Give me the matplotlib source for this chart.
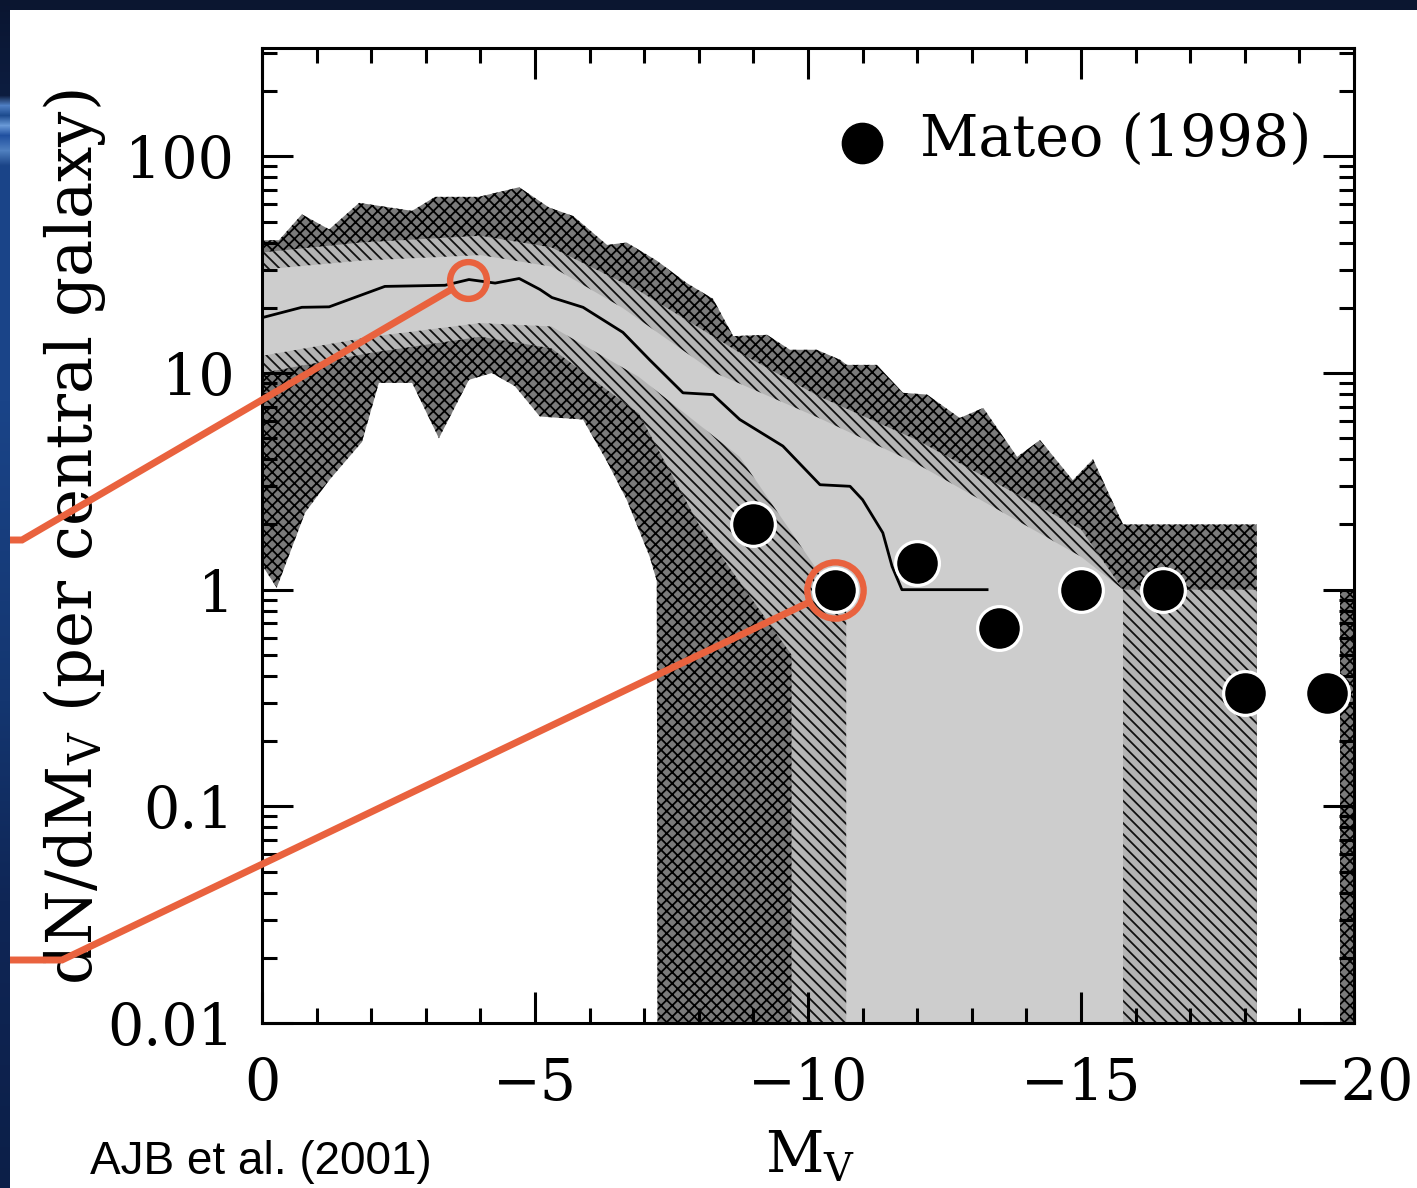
import numpy as np
import matplotlib
matplotlib.use("Agg")
import matplotlib.pyplot as plt
from matplotlib.lines import Line2D
from matplotlib.ticker import FixedLocator, FixedFormatter, LogLocator, MultipleLocator, NullFormatter

# ---------------------------------------------------------------
# Model satellite luminosity function: percentile envelopes
# (M_V, dN/dM_V); a value of 0 means the band reaches zero.
# ---------------------------------------------------------------
outer_hi_mv = [0.0, -0.31, -0.73, -1.23, -1.78, -2.75, -3.17, -3.97, -4.71, -5.26,
               -5.70, -6.32, -6.68, -7.23, -7.78, -8.26, -8.63, -9.25, -9.67, -10.16,
               -10.59, -10.71, -11.26, -11.74, -12.18, -12.78, -13.21, -13.83, -14.25,
               -14.85, -15.22, -15.77, -18.22, -18.22]
outer_hi_n = [41, 41, 54, 46, 61, 56, 65, 65, 72, 58,
              53, 39, 40, 33, 26, 22, 14.8, 15, 12.8, 12.8,
              11.5, 10.9, 10.9, 8.1, 7.95, 6.2, 6.9, 4.1, 4.9,
              3.2, 4.0, 2.0, 2.0, 0]

outer_lo_mv = [0.0, -0.27, -0.79, -1.23, -1.83, -2.14, -2.75, -3.24, -3.79, -4.21,
               -4.63, -5.09, -5.88, -6.32, -6.68, -7.10, -7.23, -7.25, -18.22]
outer_lo_n = [1.3, 1.02, 2.27, 3.2, 4.8, 9.0, 9.0, 5.0, 9.3, 10.0,
              8.7, 6.3, 6.1, 3.9, 2.6, 1.42, 1.1, 0, 0]

mid_hi_mv = [0.0, -1.8, -4.0, -5.3, -6.9, -8.75, -10.2, -12.0, -15.0, -15.77, -18.22, -18.22]
mid_hi_n = [36, 40, 43, 38, 24, 12.4, 7.8, 4.9, 1.9, 1.0, 1.0, 0]

mid_lo_mv = [0.0, -2.0, -4.0, -5.3, -6.9, -8.0, -9.7, -9.7, -18.22]
mid_lo_n = [10, 12.4, 14.7, 13, 6.5, 2.0, 0.5, 0, 0]

inner_hi_mv = [0.0, -1.8, -4.0, -5.3, -6.6, -8.3, -10.2, -12.0, -15.0, -15.77, -15.77]
inner_hi_n = [30, 33, 35, 31, 20, 10, 6.2, 3.8, 1.42, 1.0, 0]

inner_lo_mv = [0.0, -2.0, -4.0, -5.3, -6.9, -8.75, -10.2, -10.7, -10.7, -15.77]
inner_lo_n = [12, 14.7, 17, 16.4, 9.6, 4.1, 1.2, 0.9, 0, 0]

# brightest bin, drawn on its own
last_bin_mv = [-19.75, -20.0]
last_bin_n = [1.0, 1.0]

median_mv = [0.0, -0.73, -1.23, -2.25, -3.35, -3.79, -4.27, -4.71, -5.09, -5.31,
             -5.88, -6.61, -7.10, -7.71, -8.26, -8.75, -9.54, -10.22, -10.77, -11.0,
             -11.37, -11.54, -11.72, -13.28]
median_n = [18.0, 20.1, 20.2, 25.1, 25.4, 27.0, 26.0, 27.3, 24.3, 22.3,
            20.1, 15.4, 11.5, 8.1, 7.95, 6.1, 4.6, 3.05, 3.0, 2.6,
            1.83, 1.28, 1.0, 1.0]

# Observed Milky Way satellites, Mateo (1998)
mateo_mv = [-9.0, -10.5, -12.0, -13.5, -15.0, -16.5, -18.0, -19.5]
mateo_n = [2.0, 1.0, 1.333, 0.667, 1.0, 1.0, 0.333, 0.333]

xtick_vals = [0, -5, -10, -15, -20]
xtick_labels = ["0", "\u22125", "\u221210", "\u221215", "\u221220"]
ytick_vals = [0.01, 0.1, 1, 10, 100]
ytick_labels = ["0.01", "0.1", "1", "10", "100"]

FLOOR = 1e-3
SERIF = "DejaVu Serif"
ORANGE = "#E9623E"

plt.rcParams["mathtext.fontset"] = "dejavuserif"
plt.rcParams["hatch.linewidth"] = 1.3

W, H, DPI = 1417, 1188, 100
fig = plt.figure(figsize=(W / DPI, H / DPI), dpi=DPI, facecolor="white")
ax = fig.add_axes([262 / W, 1 - 1023 / H, (1354 - 262) / W, (1023 - 48) / H])


def band(xh, yh, xl, yl, face, hatch=None, hatch_color="black"):
    xs = np.concatenate([np.asarray(xh, float), np.asarray(xl, float)[::-1]])
    ys = np.concatenate([np.asarray(yh, float), np.asarray(yl, float)[::-1]])
    ax.fill(xs, np.maximum(ys, FLOOR), facecolor=face, edgecolor=hatch_color,
            hatch=hatch, lw=0, zorder=1)


# halftone-like shading: cross-hatched outer band, diagonal middle, light core
band(outer_hi_mv, outer_hi_n, outer_lo_mv, outer_lo_n, "#7a7a7a", "xxx", "#000000")
band(last_bin_mv, last_bin_n, last_bin_mv, [0, 0], "#7a7a7a", "xxx", "#000000")
band(mid_hi_mv, mid_hi_n, mid_lo_mv, mid_lo_n, "#b4b4b4", "\\\\\\", "#101010")
band(inner_hi_mv, inner_hi_n, inner_lo_mv, inner_lo_n, "#cdcdcd")

ax.plot(median_mv, median_n, color="black", lw=2.0, zorder=3)

ax.plot(mateo_mv, mateo_n, "o", ms=31.5, mfc="black", mec="white", mew=2.3,
        zorder=5, clip_on=False)

ax.set_yscale("log")
ax.set_xlim(0, -20)
ax.set_ylim(0.01, 10 ** 2.5)

ax.xaxis.set_major_locator(FixedLocator(xtick_vals))
ax.xaxis.set_major_formatter(FixedFormatter(xtick_labels))
ax.xaxis.set_minor_locator(MultipleLocator(1))
ax.yaxis.set_major_locator(FixedLocator(ytick_vals))
ax.yaxis.set_major_formatter(FixedFormatter(ytick_labels))
ax.yaxis.set_minor_locator(LogLocator(base=10, subs=np.arange(2, 10), numticks=30))
ax.yaxis.set_minor_formatter(NullFormatter())

ax.tick_params(which="both", direction="in", top=True, right=True, width=2.2,
               color="black")
ax.tick_params(which="major", length=22)
ax.tick_params(which="minor", length=11)
ax.tick_params(axis="y", which="major", pad=20)
ax.tick_params(axis="x", which="major", pad=24)
for lab in ax.get_xticklabels() + ax.get_yticklabels():
    lab.set_fontfamily(SERIF)
    lab.set_fontsize(41)
for sp in ax.spines.values():
    sp.set_linewidth(2.2)

ax.set_ylabel(r"dN/dM$_{\rm V}$ (per central galaxy)", family=SERIF, fontsize=45)
ax.yaxis.set_label_coords(-0.141, 0.4985)
ax.set_xlabel(r"M$_{\rm V}$", family=SERIF, fontsize=41)
ax.xaxis.set_label_coords(0.502, -0.108)

# key
ax.plot([0.549], [0.9026], "o", ms=29, color="black", transform=ax.transAxes,
        clip_on=False, zorder=6)
ax.text(0.6026, 0.9056, "Mateo (1998)", transform=ax.transAxes, ha="left",
        va="center", family=SERIF, fontsize=41, zorder=6)

# highlight circles and leader lines
fig.canvas.draw()
to_fig = fig.transFigure.inverted()


def callout(mv, n, ms, elbow_px, r_px):
    cx, cy = ax.transData.transform((mv, n))
    ex, ey = elbow_px[0], H - elbow_px[1]
    d = np.hypot(ex - cx, ey - cy)
    sx, sy = cx + (ex - cx) * r_px / d, cy + (ey - cy) * r_px / d
    pts = to_fig.transform([(sx, sy), (ex, ey), (0, ey)])
    fig.add_artist(Line2D(pts[:, 0], pts[:, 1], color=ORANGE, lw=5.0,
                          transform=fig.transFigure, zorder=10,
                          solid_joinstyle="miter", solid_capstyle="butt"))
    ax.plot([mv], [n], "o", ms=ms, mfc="none", mec=ORANGE, mew=4.6,
            zorder=11, clip_on=False)


peak_mv = -3.77
callout(peak_mv, float(np.interp(-peak_mv, -np.array(median_mv), median_n)),
        26.5, (22, 540), 20)
callout(mateo_mv[1], mateo_n[1], 40.5, (62, 960), 29)

fig.text(90 / W, 1 - 1162 / H, "AJB et al. (2001)", family="Liberation Sans",
         fontsize=33, ha="left", va="center")

# slide frame: dark band across the top, blue strip down the left side
top = np.zeros((10, W, 3))
top[:] = np.array([11, 22, 48]) / 255.0
fig.figimage(top, xo=0, yo=H - 10, origin="upper", zorder=20)

stops_y = [0, 95, 105, 115, 125, 135, 150, 165, 400, 700, 900, H]
stops_c = np.array([[10, 21, 48], [13, 29, 64], [79, 127, 196], [29, 75, 142],
                    [106, 154, 216], [32, 80, 160], [80, 128, 192], [27, 69, 136],
                    [26, 68, 136], [20, 54, 112], [15, 38, 86], [12, 31, 72]]) / 255.0
rows = np.arange(H)
col = np.stack([np.interp(rows, stops_y, stops_c[:, k]) for k in range(3)], axis=1)
left = np.repeat(col[:, None, :], 10, axis=1)
fig.figimage(left, xo=0, yo=0, origin="upper", zorder=20)

fig.savefig("out.png", dpi=DPI)
